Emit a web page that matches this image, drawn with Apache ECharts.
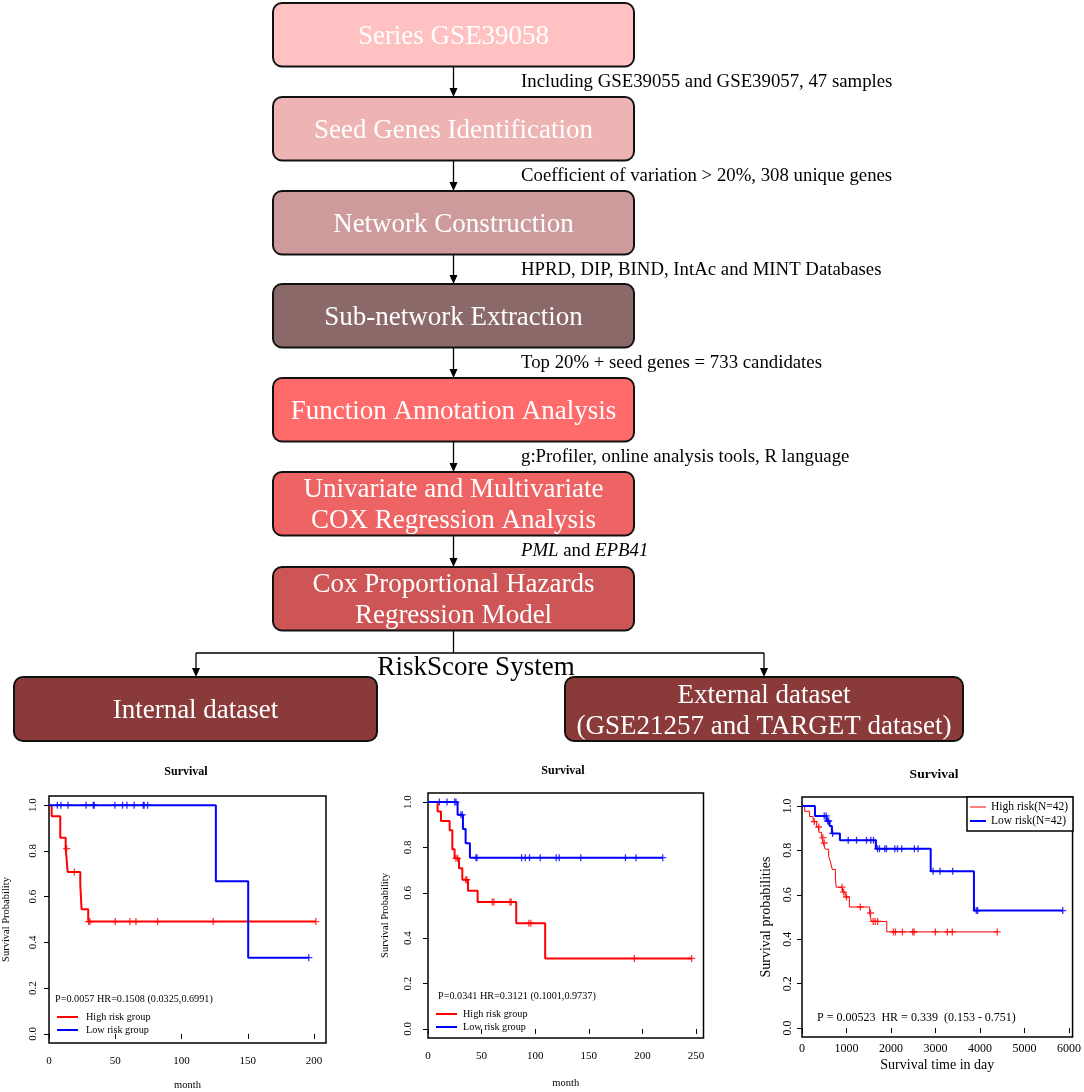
<!DOCTYPE html>
<html lang="en">
<head>
<meta charset="UTF-8">
<title>RiskScore workflow and survival</title>
<script src="https://cdn.jsdelivr.net/npm/echarts@6/dist/echarts.min.js"></script>
<style>
    html, body { margin: 0; padding: 0; background: #fff; }
    #main { width: 1084px; height: 1092px; }
</style>
</head>
<body>
<div id="main"></div>
<script type="text/javascript">
    // ---- flowchart text ----
    var stepLabels = ['Series GSE39058', 'Seed Genes Identification', 'Network Construction',
        'Sub-network Extraction', 'Function Annotation Analysis',
        'Univariate and Multivariate\nCOX Regression Analysis',
        'Cox Proportional Hazards\nRegression Model'];
    var stepNotes = ['Including GSE39055 and GSE39057, 47 samples',
        'Coefficient of variation > 20%, 308 unique genes',
        'HPRD, DIP, BIND, IntAc and MINT Databases',
        'Top 20% + seed genes = 733 candidates',
        'g:Profiler, online analysis tools, R language',
        '{i|PML} and {i|EPB41}'];
    var branchLabel = 'RiskScore System';
    var datasetLabels = ['Internal dataset', 'External dataset\n(GSE21257 and TARGET dataset)'];

    // ---- KM panel 1 (month) ----
    var km1HighTime = [0, 2, 8.5, 12.6, 14.1, 23.6, 24.6, 29.6, 201.3];
    var km1HighSurv = [1, 0.952, 0.857, 0.810, 0.708, 0.652, 0.545, 0.491, 0.491];
    var km1HighCens = [13.3, 19.1, 29.9, 30.9, 50, 61, 65.6, 81.9, 123.9, 201.3];
    var km1LowTime = [0, 125.9, 150.3, 196];
    var km1LowSurv = [1, 0.667, 0.333, 0.333];
    var km1LowCens = [6.3, 9, 14.3, 27.9, 33.4, 34.2, 49.7, 55.5, 58.8, 64.3, 71.1, 71.8, 74.4, 196];

    // ---- KM panel 2 (month) ----
    var km2HighTime = [0, 9.0, 12.1, 20.2, 22.7, 24.8, 28.9, 32.0, 37.3, 46.3, 82.3, 109.3, 246];
    var km2HighSurv = [1, 0.959, 0.917, 0.876, 0.792, 0.752, 0.708, 0.658, 0.609, 0.559, 0.466, 0.311, 0.311];
    var km2HighCens = [26.1, 27.6, 35.1, 36.3, 59.9, 61.5, 76.4, 77.6, 94.1, 96.0, 192.5, 246];
    var km2LowTime = [0, 27.6, 32.6, 35.1, 39.1, 219];
    var km2LowSurv = [1, 0.944, 0.881, 0.819, 0.755, 0.755];
    var km2LowCens = [10.6, 17.7, 24.8, 26.1, 30.7, 32.0, 44.7, 45.7, 87.3, 90.7, 94.7, 104.7,
        119.6, 122.4, 142.5, 184.2, 194.1, 219];

    // ---- KM panel 3 (day) ----
    var km3HighTime = [0, 60, 170, 250, 330, 380, 440, 480, 520, 600, 640, 680, 750, 770, 910, 970,
        1065, 1520, 1560, 1905, 4387];
    var km3HighSurv = [1, 0.976, 0.952, 0.929, 0.905, 0.881, 0.857, 0.833, 0.805, 0.773, 0.748, 0.714,
        0.676, 0.634, 0.612, 0.590, 0.545, 0.518, 0.480, 0.433, 0.433];
    var km3HighCens = [277, 374, 470, 500, 900, 935, 1000, 1310, 1540, 1600, 1645, 1700, 2055, 2100,
        2257, 2489, 2519, 2997, 3266, 3378, 4387];
    var km3LowTime = [0, 291, 553, 620, 672, 852, 1660, 2892, 3864, 5860];
    var km3LowSurv = [1, 0.955, 0.932, 0.910, 0.876, 0.845, 0.807, 0.706, 0.529, 0.529];
    var km3LowCens = [500, 545, 575, 600, 688, 1039, 1226, 1450, 1547, 1607, 1697, 1741, 1861, 1898,
        2085, 2145, 2242, 2526, 2608, 2945, 3102, 3386, 3916, 3946, 5860];

    var monthTicks1 = [0, 50, 100, 150, 200];
    var monthTicks2 = [0, 50, 100, 150, 200, 250];
    var dayTicks = [0, 1000, 2000, 3000, 4000, 5000, 6000];
    var survTicks = [0, 0.2, 0.4, 0.6, 0.8, 1.0];

    var FONT = '"Liberation Serif", "Times New Roman", serif';
    var RED = '#ff0000', BLUE = '#0000ff';

    var myChart = echarts.init(document.getElementById('main'));

    function pairs(t, s) {
        return t.map(function (v, i) { return [v, s[i]]; });
    }
    // survival value of the step curve at time x (where a censor mark sits)
    function survAt(t, s, x) {
        var v = s[0];
        for (var i = 0; i < t.length; i++) {
            if (t[i] <= x) v = s[i];
        }
        return v;
    }
    function censorPoints(t, s, c) {
        return c.map(function (x) { return [x, survAt(t, s, x)]; });
    }

    function curve(name, idx, t, s, color, width) {
        return {
            name: name, type: 'line', step: 'end', xAxisIndex: idx, yAxisIndex: idx,
            data: pairs(t, s), showSymbol: false, symbol: 'none',
            lineStyle: {color: color, width: width}, itemStyle: {color: color}
        };
    }
    function marks(name, idx, t, s, c, color, size) {
        return {
            name: name, type: 'scatter', xAxisIndex: idx, yAxisIndex: idx,
            data: censorPoints(t, s, c),
            symbol: 'path://M0,5L10,5M5,0L5,10', symbolSize: size,
            itemStyle: {color: 'transparent', borderColor: color, borderWidth: 1.3}
        };
    }

    var grids = [
        {left: 49, top: 796, width: 277, height: 247},
        {left: 428, top: 793, width: 275.5, height: 245},
        {left: 802, top: 797, width: 271, height: 240}
    ];
    var xMax = [209, 257, 6080];
    var xTickSets = [monthTicks1, monthTicks2, dayTicks];
    var xNames = ['month', 'month', 'Survival time in day'];
    var yNames = ['Survival Probability', 'Survival Probability', 'Survival probabilities'];
    var tickFont = [11, 11, 12];
    var nameFont = [10.5, 10.5, 14];
    var xLabelMargin = [13, 13, 6];
    var yLabelMargin = [10, 14, 8];
    var xNameGap = [37, 40, 21];
    var yNameGap = [37, 37, 29];

    var xAxes = [], yAxes = [];
    for (var g = 0; g < 3; g++) {
        grids[g].show = true;
        grids[g].borderColor = '#000';
        grids[g].borderWidth = 1.5;
        grids[g].backgroundColor = 'transparent';
        xAxes.push({
            gridIndex: g, type: 'value', min: 0, max: xMax[g],
            axisLine: {show: false}, splitLine: {show: false},
            axisTick: {show: true, length: 5, customValues: xTickSets[g], lineStyle: {color: '#000'}},
            axisLabel: {customValues: xTickSets[g], color: '#000', fontFamily: FONT,
                fontSize: tickFont[g], margin: xLabelMargin[g],
                formatter: function (v) { return String(v); }},
            name: xNames[g], nameLocation: 'middle', nameGap: xNameGap[g],
            nameTextStyle: {color: '#000', fontFamily: FONT, fontSize: nameFont[g]}
        });
        yAxes.push({
            gridIndex: g, type: 'value', min: -0.04, max: 1.04,
            axisLine: {show: false}, splitLine: {show: false},
            axisTick: {show: true, length: 5, customValues: survTicks, lineStyle: {color: '#000'}},
            axisLabel: {customValues: survTicks, color: '#000', fontFamily: FONT, rotate: 90,
                fontSize: tickFont[g], margin: yLabelMargin[g],
                formatter: function (v) { return v.toFixed(1); }},
            name: yNames[g], nameLocation: 'middle', nameGap: yNameGap[g],
            nameTextStyle: {color: '#000', fontFamily: FONT, fontSize: nameFont[g]}
        });
    }

    var series = [
        curve('High risk group', 0, km1HighTime, km1HighSurv, RED, 2),
        curve('Low risk group', 0, km1LowTime, km1LowSurv, BLUE, 2),
        marks('High risk group', 0, km1HighTime, km1HighSurv, km1HighCens, RED, 7),
        marks('Low risk group', 0, km1LowTime, km1LowSurv, km1LowCens, BLUE, 7),
        curve('High risk group', 1, km2HighTime, km2HighSurv, RED, 2),
        curve('Low risk group', 1, km2LowTime, km2LowSurv, BLUE, 2),
        marks('High risk group', 1, km2HighTime, km2HighSurv, km2HighCens, RED, 7),
        marks('Low risk group', 1, km2LowTime, km2LowSurv, km2LowCens, BLUE, 7),
        curve('High risk(N=42)', 2, km3HighTime, km3HighSurv, RED, 1),
        curve('Low risk(N=42)', 2, km3LowTime, km3LowSurv, BLUE, 2),
        marks('High risk(N=42)', 2, km3HighTime, km3HighSurv, km3HighCens, RED, 7),
        marks('Low risk(N=42)', 2, km3LowTime, km3LowSurv, km3LowCens, BLUE, 7)
    ];

    // ---- flowchart drawing ----
    var boxFill = ['#FFC1C1', '#EEB4B4', '#CD9B9B', '#8B6969', '#FF6A6A', '#EE6363', '#CD5555'];
    var boxTop = [3, 97, 191, 284, 378, 472, 567];
    var boxH = 63.5;
    var colX = 273, colW = 361, cx = 453.5;
    var gfx = [];

    function txt(x, y, text, size, color, align, extra) {
        var st = {text: text, fill: color, fontFamily: FONT, fontSize: size,
            textAlign: align, textVerticalAlign: 'middle', align: align, verticalAlign: 'middle'};
        for (var k in (extra || {})) st[k] = extra[k];
        return {type: 'text', x: x, y: y, z: 10, style: st};
    }
    function box(x, y, w, h, fill, label) {
        gfx.push({type: 'rect', z: 5, shape: {x: x, y: y, width: w, height: h, r: 9},
            style: {fill: fill, stroke: '#111', lineWidth: 2}});
        gfx.push(txt(x + w / 2, y + h / 2 + 2, label, 27, '#fff', 'center', {lineHeight: 31}));
    }
    function arrow(x, y1, y2) {
        gfx.push({type: 'line', z: 4, shape: {x1: x, y1: y1, x2: x, y2: y2 - 7},
            style: {stroke: '#000', lineWidth: 1.3}});
        gfx.push({type: 'polygon', z: 4, shape: {points: [[x - 4, y2 - 9], [x + 4, y2 - 9], [x, y2]]},
            style: {fill: '#000'}});
    }

    for (var i = 0; i < stepLabels.length; i++) {
        box(colX, boxTop[i], colW, boxH, boxFill[i], stepLabels[i]);
        if (i < stepLabels.length - 1) {
            arrow(cx, boxTop[i] + boxH, boxTop[i + 1]);
            gfx.push(txt(521, boxTop[i] + boxH + 16, stepNotes[i], 18.8, '#000', 'left',
                {rich: {i: {fontStyle: 'italic', fontFamily: FONT, fontSize: 18.8, fill: '#000'}}}));
        }
    }
    // branch to the two datasets
    var branchY = 653, leftX = 196, rightX = 764, dsTop = 677;
    gfx.push({type: 'polyline', z: 4, shape: {points: [[cx, boxTop[6] + boxH], [cx, branchY]]},
        style: {stroke: '#000', lineWidth: 1.3, fill: null}});
    gfx.push({type: 'polyline', z: 4, shape: {points: [[leftX, branchY], [rightX, branchY]]},
        style: {stroke: '#000', lineWidth: 1.3, fill: null}});
    arrow(leftX, branchY, dsTop);
    arrow(rightX, branchY, dsTop);
    gfx.push(txt(476, 668, branchLabel, 27, '#000', 'center'));
    box(14, dsTop, 363, 64, '#8B3A3A', datasetLabels[0]);
    box(565, dsTop, 398, 64, '#8B3A3A', datasetLabels[1]);

    // ---- panel titles, statistics and legends ----
    var titleX = [186, 563, 934], titleY = [772, 771, 775], titleSize = [12, 12, 13.5];
    for (var p = 0; p < 3; p++) {
        gfx.push(txt(titleX[p], titleY[p], 'Survival', titleSize[p], '#000', 'center', {fontWeight: 'bold'}));
    }
    gfx.push(txt(55, 999.5, 'P=0.0057 HR=0.1508 (0.0325,0.6991)', 10.2, '#000', 'left'));
    gfx.push(txt(438, 996, 'P=0.0341 HR=0.3121 (0.1001,0.9737)', 10.2, '#000', 'left'));
    gfx.push(txt(817, 1018, 'P = 0.00523  HR = 0.339  (0.153 - 0.751)', 12, '#000', 'left'));

    function legendRow(x1, x2, y, color, w, label, tx, size) {
        gfx.push({type: 'line', z: 10, shape: {x1: x1, y1: y, x2: x2, y2: y},
            style: {stroke: color, lineWidth: w}});
        gfx.push(txt(tx, y, label, size, '#000', 'left'));
    }
    legendRow(57, 78, 1017, RED, 2, 'High risk group', 86, 10.2);
    legendRow(57, 78, 1030, BLUE, 2, 'Low risk group', 86, 10.2);
    legendRow(436, 457, 1014, RED, 2, 'High risk group', 463, 10.2);
    legendRow(436, 457, 1027, BLUE, 2, 'Low risk group', 463, 10.2);
    gfx.push({type: 'rect', z: 9, shape: {x: 967, y: 797, width: 106, height: 34},
        style: {fill: '#fff', stroke: '#000', lineWidth: 1.5}});
    legendRow(970, 986, 807, RED, 1, 'High risk(N=42)', 991, 11.5);
    legendRow(970, 986, 821, BLUE, 2, 'Low risk(N=42)', 991, 11.5);

    var option = {
        backgroundColor: '#fff',
        animation: false,
        grid: grids,
        xAxis: xAxes,
        yAxis: yAxes,
        series: series,
        graphic: {elements: gfx}
    };
    myChart.setOption(option);
</script>
</body>
</html>
